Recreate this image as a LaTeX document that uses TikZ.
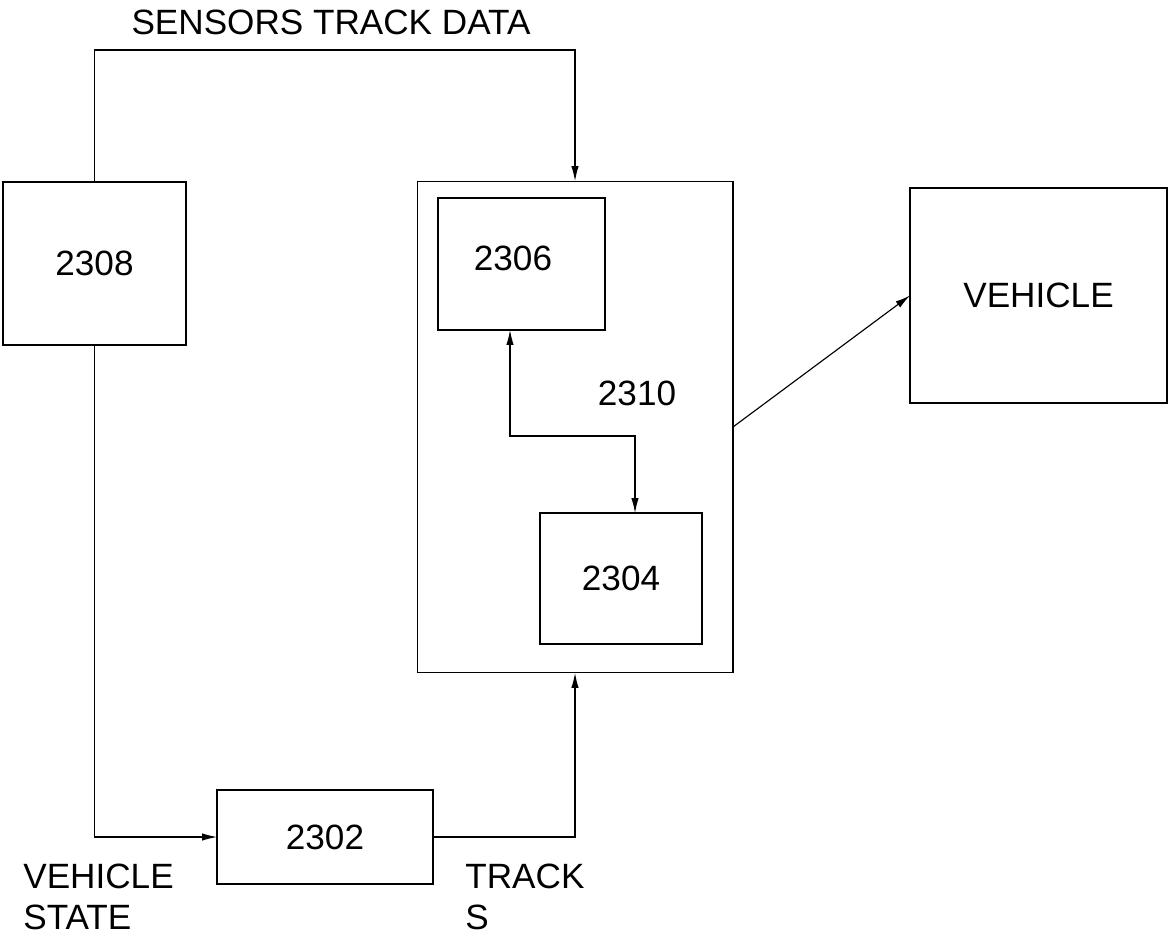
\documentclass[tikz,border=0pt]{standalone}
\usepackage{fontspec}
\setmainfont{Liberation Sans}
\usetikzlibrary{arrows.meta}
\tikzset{
  box/.style={draw=black, line width=1.2pt, inner sep=0pt, outer sep=0pt, fill=none,
              font=\fontsize{20pt}{23pt}\selectfont},
  cbox/.style={draw=black, line width=0.6pt, inner sep=0pt, outer sep=0pt},
  lbl/.style={inner sep=0pt, font=\fontsize{20pt}{23pt}\selectfont},
  conn/.style={draw=black, line width=0.65pt, -{Latex[length=0.3cm,width=0.15cm]}},
  dconn/.style={draw=black, line width=0.65pt, {Latex[length=0.3cm,width=0.15cm]}-{Latex[length=0.3cm,width=0.15cm]}}
}
\begin{document}
\begin{tikzpicture}[x=0.02cm, y=-0.02cm]
\useasboundingbox (0,0) rectangle (1168,935);
% boxes
\node[box, minimum width=3.66cm, minimum height=3.26cm] (b2308) at (94.5,263.5) {2308};
\node[cbox, minimum width=6.32cm, minimum height=9.84cm] (cont) at (575,427) {};
\node[box, minimum width=3.34cm, minimum height=2.64cm] (b2306) at (521.5,264) {};
\node[lbl] (t2306) at (513,258) {2306};
\node[box, minimum width=3.24cm, minimum height=2.62cm] (b2304) at (621,578.5) {2304};
\node[box, minimum width=5.14cm, minimum height=4.30cm] (veh) at (1038.5,295.5) {VEHICLE};
\node[box, minimum width=4.32cm, minimum height=1.88cm] (b2302) at (325,837) {2302};
% labels
\node[lbl] (sensors) at (331,22) {SENSORS TRACK DATA};
\node[lbl] (t2310) at (637,393) {2310};
\node[lbl, anchor=north west, align=left] (vstate) at (23,864) {VEHICLE\\STATE};
\node[lbl, anchor=north west, align=left] (tracks) at (465,864) {TRACK\\S};
% connectors
\coordinate (tl) at (94.5,50);
\draw[conn] (b2308.north) -- (tl) -| (cont.north);
\draw[conn] (b2308.south) |- (b2302.west);
\draw[conn] (b2302.east) -| (cont.south);
\coordinate (m1) at (510,436);
\coordinate (m2) at (635,436);
\draw[dconn] (m1 |- b2306.south) -- (m1) -- (m2) -- (m2 |- b2304.north);
\draw[conn] (cont.east) -- (veh.west);
\end{tikzpicture}
\end{document}
